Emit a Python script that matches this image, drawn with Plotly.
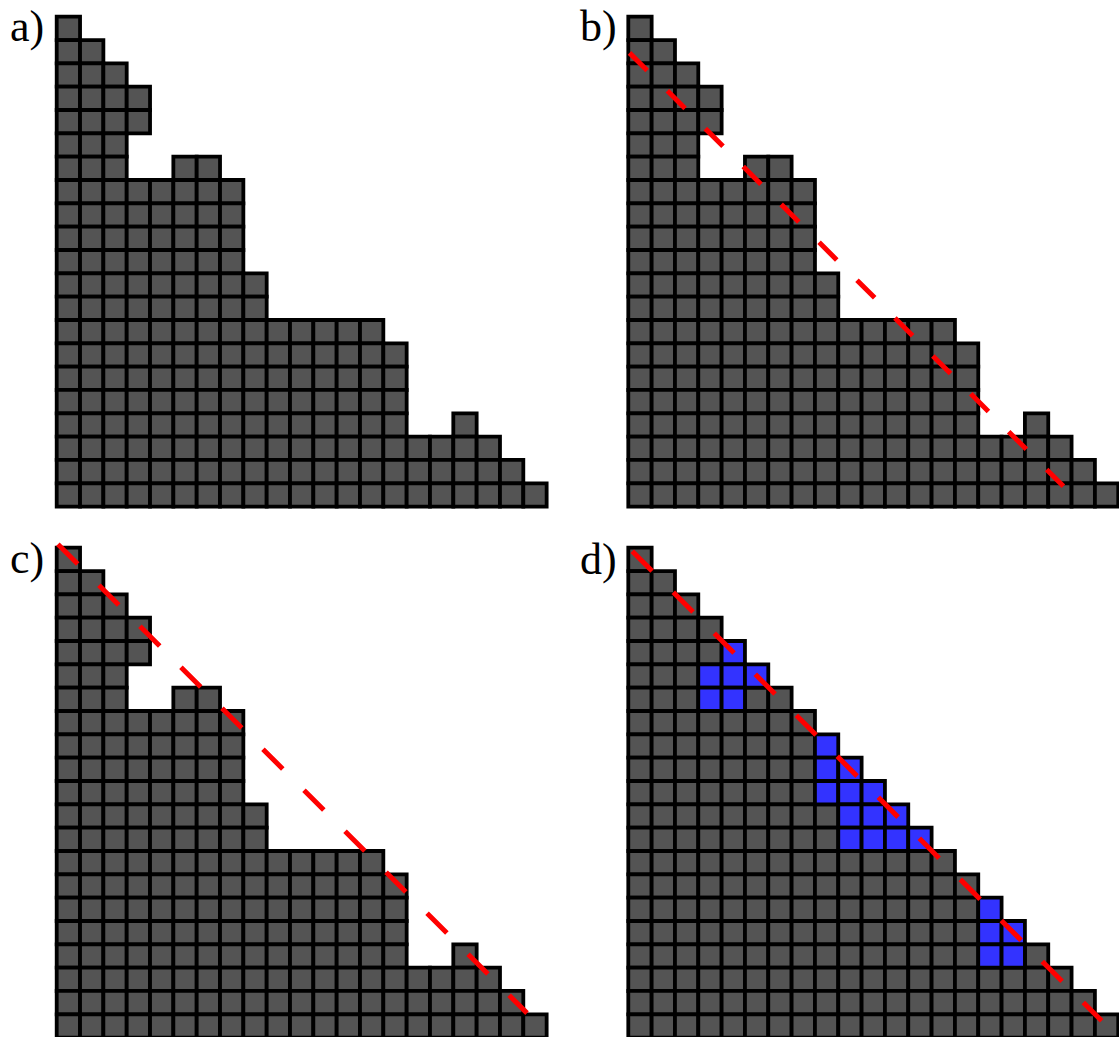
import plotly.graph_objects as go

# ---------------------------------------------------------------- data
N_CELLS = 21  # cells per side of every grid

# Panels a, b, c: topmost filled row of each column (row 0 is the top row)
block_col_tops = [0, 1, 2, 3, 7, 6, 6, 7, 11, 13, 13, 13, 13, 13, 14, 18, 18, 17, 18, 19, 20]
# cells left empty under the overhang in column 3
block_hole_cols = [3, 3]
block_hole_rows = [5, 6]

# Panel d: a full staircase
stair_col_tops = [0, 1, 2, 3, 4, 5, 6, 7, 8, 9, 10, 11, 12, 13, 14, 15, 16, 17, 18, 19, 20]
# highlighted cells of panel d (column, row)
blue_cols = [4, 3, 4, 5, 3, 4, 8, 8, 9, 8, 9, 10, 9, 10, 11, 9, 10, 11, 12, 15, 15, 16, 15, 16]
blue_rows = [4, 5, 5, 5, 6, 6, 8, 9, 9, 10, 10, 10, 11, 11, 11, 12, 12, 12, 12, 15, 16, 16, 17, 17]

# dashed guide lines, in grid units (y measured up from the bottom edge)
line_b_x = [0.05, 18.65]
line_b_y = [19.45, 0.87]
line_c_x = [0.05, 20.16]
line_c_y = [21.15, 1.05]
line_d_x = [0.17, 20.29]
line_d_y = [20.85, 0.72]

panel_labels = ["a)", "b)", "c)", "d)"]

# ---------------------------------------------------------------- styling
W, H = 1119, 1037
PITCH = 23.33            # pixels per grid cell
PAD = 12
GRAY = "#545454"
BLUE = "#3333ff"
RED = "#ff0000"
EDGE = 3.8

# top-left grid corner of each panel, in pixels
origins = {"a": (56.7, 16.7), "b": (628.3, 16.7), "c": (56.7, 547.7), "d": (628.3, 547.7)}
label_pos = {"a": (8.0, 26.0), "b": (578.0, 26.0), "c": (8.0, 558.0), "d": (578.0, 559.0)}


def cells_from_tops(tops, holes=()):
    hole_set = set(holes)
    xs, ys = [], []
    for c, top in enumerate(tops):
        for r in range(top, N_CELLS):
            if (c, r) in hole_set:
                continue
            xs.append(c + 0.5)
            ys.append(N_CELLS - r - 0.5)
    return xs, ys


fig = go.Figure()

axis_common = dict(visible=False, showgrid=False, zeroline=False, fixedrange=True)

for i, key in enumerate(["a", "b", "c", "d"]):
    n = i + 1
    xa = "x" if n == 1 else f"x{n}"
    ya = "y" if n == 1 else f"y{n}"
    px, py = origins[key]
    span = N_CELLS * PITCH
    x0p, x1p = max(0.0, px - PAD), min(W, px + span + PAD)
    bottom = py + span
    y0p, y1p = max(0.0, py - PAD), min(H, bottom + PAD)
    fig.layout[f"xaxis{'' if n == 1 else n}"] = dict(
        axis_common, domain=[x0p / W, x1p / W],
        range=[(x0p - px) / PITCH, (x1p - px) / PITCH], anchor=ya)
    fig.layout[f"yaxis{'' if n == 1 else n}"] = dict(
        axis_common, domain=[1 - y1p / H, 1 - y0p / H],
        range=[(bottom - y1p) / PITCH, (bottom - y0p) / PITCH], anchor=xa)

    if key == "d":
        blue_set = set(zip(blue_cols, blue_rows))
        gx, gy = cells_from_tops(stair_col_tops, holes=blue_set)
        bx = [c + 0.5 for c in blue_cols]
        by = [N_CELLS - r - 0.5 for r in blue_rows]
    else:
        gx, gy = cells_from_tops(block_col_tops, holes=zip(block_hole_cols, block_hole_rows))
        bx, by = [], []

    fig.add_trace(go.Scatter(
        x=gx, y=gy, xaxis=xa, yaxis=ya, mode="markers", cliponaxis=False,
        hoverinfo="skip", showlegend=False,
        marker=dict(symbol="square", size=PITCH, color=GRAY,
                    line=dict(color="black", width=EDGE))))
    if bx:
        fig.add_trace(go.Scatter(
            x=bx, y=by, xaxis=xa, yaxis=ya, mode="markers", cliponaxis=False,
            hoverinfo="skip", showlegend=False,
            marker=dict(symbol="square", size=PITCH, color=BLUE,
                        line=dict(color="black", width=EDGE))))

    guide = {"b": (line_b_x, line_b_y, "25px,28.6px"),
             "c": (line_c_x, line_c_y, "28px,30px"),
             "d": (line_d_x, line_d_y, "28px,30px")}.get(key)
    if guide:
        lx, ly, dash = guide
        fig.add_trace(go.Scatter(
            x=lx, y=ly, xaxis=xa, yaxis=ya, mode="lines", cliponaxis=False,
            hoverinfo="skip", showlegend=False,
            line=dict(color=RED, width=5, dash=dash)))

    lx_px, ly_px = label_pos[key]
    fig.add_annotation(
        x=lx_px / W, y=1 - ly_px / H, xref="paper", yref="paper",
        xanchor="left", yanchor="middle", showarrow=False,
        text=panel_labels[i],
        font=dict(family="Liberation Serif", size=44, color="black"))

fig.update_layout(
    width=W, height=H, margin=dict(l=0, r=0, t=0, b=0),
    paper_bgcolor="white", plot_bgcolor="white", showlegend=False)

fig.write_html("out.html")
